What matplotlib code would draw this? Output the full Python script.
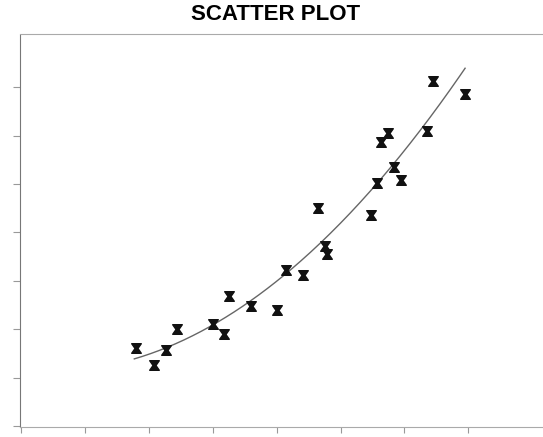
import numpy as np
import matplotlib
matplotlib.use("Agg")
import matplotlib.pyplot as plt
from matplotlib.path import Path

# Data
x_vals = [1.80, 2.08, 2.27, 2.44, 3.00, 3.17, 3.25, 3.59, 4.01, 4.14, 4.41, 4.64,
          4.75, 4.79, 5.47, 5.57, 5.63, 5.75, 5.84, 5.94, 6.35, 6.45, 6.95]
y_vals = [1.61, 1.26, 1.57, 2.00, 2.10, 1.90, 2.69, 2.49, 2.40, 3.22, 3.13, 4.50,
          3.71, 3.55, 4.37, 5.03, 5.86, 6.06, 5.36, 5.09, 6.10, 7.13, 6.85]
tick_positions = [0, 1, 2, 3, 4, 5, 6, 7]
title_text = "SCATTER PLOT"

fig = plt.figure(figsize=(5.43, 4.37), dpi=100)
ax = fig.add_axes([20/543, 10/437, 523/543, 393/437])

# hourglass-like marker
verts = [(-1, 1), (1, 1), (0.3, 0), (1, -1), (-1, -1), (-0.3, 0), (-1, 1)]
codes = [Path.MOVETO] + [Path.LINETO] * 5 + [Path.CLOSEPOLY]
hourglass = Path(verts, codes)

ax.scatter(x_vals, y_vals, marker=hourglass, s=48, color="#111111", zorder=3)

# quadratic trend line fitted to the points
coef = np.polyfit(x_vals, y_vals, 2)
xx = np.linspace(min(x_vals) - 0.03, max(x_vals), 200)
ax.plot(xx, np.polyval(coef, xx), color="#666666", lw=1.0, zorder=2)

ax.set_xlim(-0.02, 8.17)
ax.set_ylim(-0.02, 8.1)
ax.set_xticks(tick_positions)
ax.set_yticks(tick_positions)
ax.set_xticklabels([])
ax.set_yticklabels([])
ax.tick_params(axis="x", direction="out", length=4, width=0.8, color="#999999")
ax.tick_params(axis="y", direction="out", length=5, width=0.8, color="#999999")

for side in ["top", "bottom", "left"]:
    ax.spines[side].set_color("#aaaaaa")
    ax.spines[side].set_linewidth(0.8)
ax.spines["left"].set_color("#777777")
ax.spines["left"].set_linestyle((0, (1, 1)))
ax.spines["top"].set_linestyle((0, (2, 1)))
ax.spines["right"].set_visible(False)

fig.text(276/543, 1 - 15/437, title_text, ha="center", va="center",
         fontsize=16, fontweight="bold", family="Liberation Sans")

fig.savefig("out.png", dpi=100)
